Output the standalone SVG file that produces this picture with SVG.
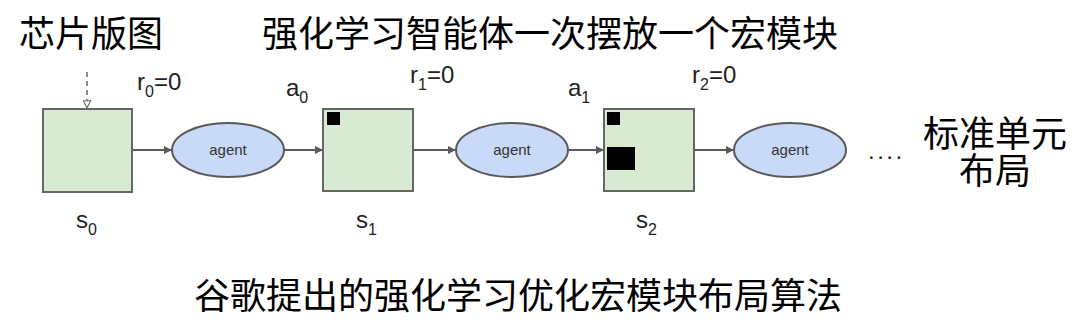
<svg xmlns="http://www.w3.org/2000/svg" width="1080" height="332" viewBox="0 0 1080 332">
<defs>
<marker id="arr" viewBox="0 0 10 10" refX="10" refY="5" markerWidth="10" markerHeight="8" markerUnits="userSpaceOnUse" orient="auto"><path d="M0,0 L10,5 L0,10 z" fill="#595959"/></marker>
<marker id="open" viewBox="0 0 10 10" refX="9" refY="5" markerWidth="9" markerHeight="9" markerUnits="userSpaceOnUse" orient="auto"><path d="M1,1 L9,5 L1,9 z" fill="#fff" stroke="#666" stroke-width="1.2"/></marker>
</defs>
<style>
.box{fill:#d9ead3;stroke:#666;stroke-width:2}
.blk{fill:#000}
.ag{fill:#c9daf8;stroke:#595959;stroke-width:2}
.agt{font-family:"Liberation Sans",Arial,sans-serif;font-size:15px;fill:#333;text-anchor:middle}
.lbl{font-family:"Liberation Sans",Arial,sans-serif;font-size:24px;fill:#222}
.cn{font-family:"Noto Sans CJK SC","Noto Sans",sans-serif;font-size:36px;fill:#000;text-anchor:middle}
.c{stroke:#595959;stroke-width:2;fill:none;marker-end:url(#arr)}
</style>
<rect width="1080" height="332" fill="#fff"/>
<g id="titles">
<text class="cn" x="91" y="47">芯片版图</text>
<text class="cn" x="550" y="47">强化学习智能体一次摆放一个宏模块</text>
<text class="cn" font-size="35"><tspan x="995" y="147">标准单元</tspan><tspan x="995" y="184">布局</tspan></text>
<text class="cn" x="518" y="309">谷歌提出的强化学习优化宏模块布局算法</text>
</g>
<g id="connectors">
<line x1="87" y1="72" x2="87" y2="108" stroke="#666" stroke-width="1.5" stroke-dasharray="5,4" fill="none" marker-end="url(#open)"/>
<line class="c" x1="133" y1="150" x2="172" y2="150"/>
<line class="c" x1="284" y1="150" x2="323" y2="150"/>
<line class="c" x1="414" y1="150" x2="456" y2="150"/>
<line class="c" x1="568" y1="150" x2="604" y2="150"/>
<line class="c" x1="695" y1="150" x2="734" y2="150"/>
</g>
<g id="s0">
<rect class="box" x="43" y="109" width="89" height="83"/>
<text class="lbl" x="76" y="228">s<tspan font-size="16" dy="7">0</tspan></text>
</g>
<g id="agent0">
<ellipse class="ag" cx="228" cy="150" rx="56" ry="27"/>
<text class="agt" x="228" y="155">agent</text>
</g>
<g id="s1">
<rect class="box" x="323" y="109" width="90" height="82"/>
<rect class="blk" x="327" y="112" width="13" height="13"/>
<text class="lbl" x="356" y="228">s<tspan font-size="16" dy="7">1</tspan></text>
</g>
<g id="agent1">
<ellipse class="ag" cx="512" cy="150" rx="56" ry="27"/>
<text class="agt" x="512" y="155">agent</text>
</g>
<g id="s2">
<rect class="box" x="604" y="109" width="90" height="82"/>
<rect class="blk" x="607" y="112" width="13" height="13"/>
<rect class="blk" x="607" y="147" width="28" height="23"/>
<text class="lbl" x="636" y="228">s<tspan font-size="16" dy="7">2</tspan></text>
</g>
<g id="agent2">
<ellipse class="ag" cx="790" cy="150" rx="56" ry="27"/>
<text class="agt" x="790" y="155">agent</text>
</g>
<g id="labels">
<text class="lbl" x="137" y="90">r<tspan font-size="16" dy="7">0</tspan><tspan dy="-7">=0</tspan></text>
<text class="lbl" x="286" y="96">a<tspan font-size="16" dy="7">0</tspan></text>
<text class="lbl" x="410" y="83">r<tspan font-size="16" dy="7">1</tspan><tspan dy="-7">=0</tspan></text>
<text class="lbl" x="568" y="96">a<tspan font-size="16" dy="7">1</tspan></text>
<text class="lbl" x="692" y="83">r<tspan font-size="16" dy="7">2</tspan><tspan dy="-7">=0</tspan></text>
<text class="lbl" x="868" y="159" font-size="30" letter-spacing="2.5" fill="#333">....</text>
</g>
</svg>
